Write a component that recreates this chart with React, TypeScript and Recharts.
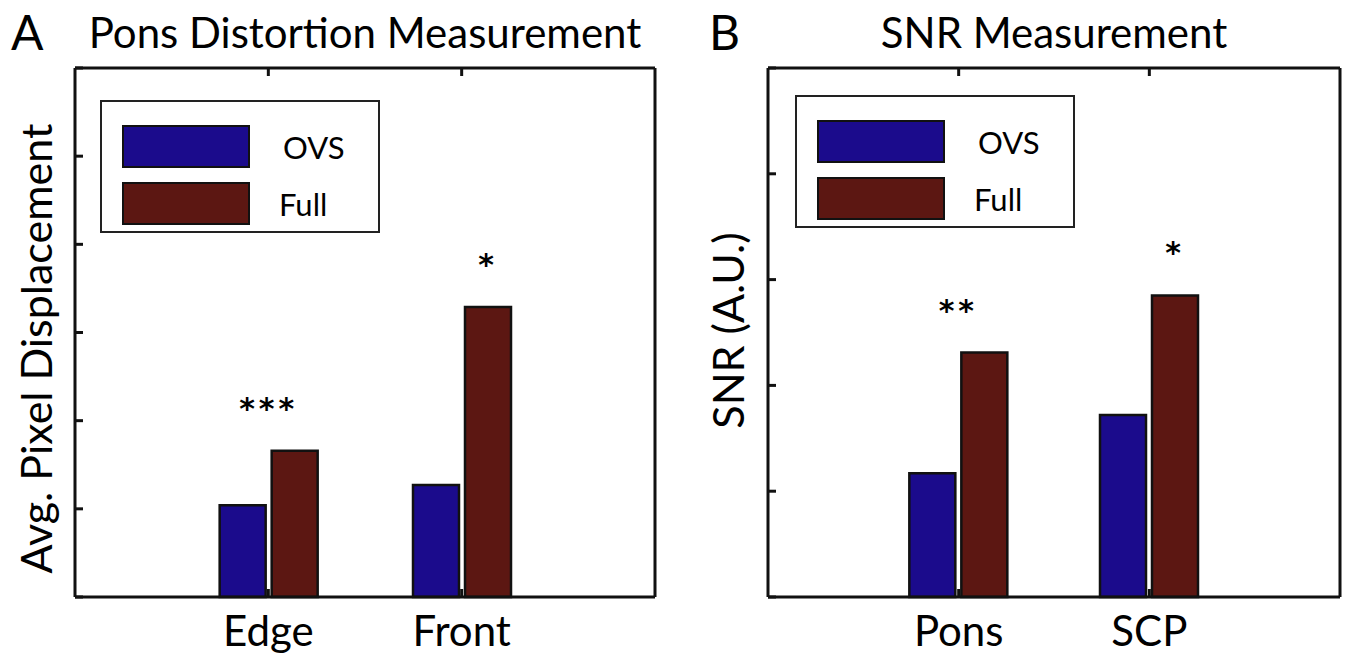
import React from 'react';
import { BarChart, Bar, XAxis, YAxis, Legend, LabelList } from 'recharts';

// panel A: pons distortion
const distortionCats = ['Edge', 'Front'];
const distortionOVS = [1.04, 1.27];
const distortionFull = [1.66, 3.29];
const distortionSig = ['***', '*'];
const distortionTicks = [0, 1, 2, 3, 4, 5, 6];

// panel B: SNR
const snrCats = ['Pons', 'SCP'];
const snrOVS = [1.17, 1.72];
const snrFull = [2.31, 2.85];
const snrSig = ['**', '*'];
const snrTicks = [0, 1, 2, 3, 4, 5];

const seriesNames = ['OVS', 'Full'];

const FONT = 'Lato, "Open Sans", sans-serif';
const OVS_COLOR = '#1b0b8c';
const FULL_COLOR = '#5c1712';
const BAR_GAP = 6;

const renderLegend = (props: any) => {
  const payload = [...props.payload].sort((a: any, b: any) => seriesNames.indexOf(a.value) - seriesNames.indexOf(b.value));
  return (
    <div style={{ border: '2.5px solid #222', background: '#fff', width: 280, height: 133, boxSizing: 'border-box', position: 'relative' }}>
      {payload.map((entry: any, i: number) => (
        <div key={entry.value} style={{ position: 'absolute', left: 20, top: 23 + i * 57, display: 'flex', alignItems: 'center' }}>
          <div style={{ width: 128, height: 43, background: entry.color, border: '2.5px solid #111', boxSizing: 'border-box' }} />
          <span style={{ marginLeft: i === 0 ? 33 : 29, fontFamily: FONT, fontSize: 31, color: '#000' }}>{entry.value}</span>
        </div>
      ))}
    </div>
  );
};

const renderStars = (props: any) => {
  const { x, y, width, value } = props;
  // multi-star marks sit over the pair, single stars over the Full bar
  const cx = value.length > 1 ? x - BAR_GAP / 2 : x + width / 2;
  return (
    <text x={cx} y={y - 48 + 16} textAnchor="middle" fontFamily='"DejaVu Sans", sans-serif' fontSize={30} fontWeight={700} letterSpacing={4} fill="#000">
      {value}
    </text>
  );
};

const makeYLabel = (text: string, dx: number, dy: number) => (props: any) => {
  const vb = props.viewBox;
  const cx = vb.x + vb.width - dx;
  const cy = vb.y + vb.height / 2 + dy;
  return (
    <text x={cx} y={cy} transform={`rotate(-90 ${cx} ${cy})`} textAnchor="middle" dominantBaseline="central" fontFamily={FONT} fontSize={43} fill="#000">
      {text}
    </text>
  );
};

const renderCatTick = (props: any) => {
  const { x, payload } = props;
  return (
    <text x={x} y={646} textAnchor="middle" fontFamily={FONT} fontSize={42} fill="#000">
      {payload.value}
    </text>
  );
};

interface PanelProps {
  cats: string[];
  ovs: number[];
  full: number[];
  sig: string[];
  ticks: number[];
  yLabel: string;
  width: number;
  margin: { top: number; left: number; right: number; bottom: number };
  legendPos: { left: number; top: number };
  labelDx: number;
  labelDy: number;
}

const Panel: React.FC<PanelProps> = ({ cats, ovs, full, sig, ticks, yLabel, width, margin, legendPos, labelDx, labelDy }) => {
  const data = cats.map((c, i) => ({ cat: c, ovs: ovs[i], full: full[i], sig: sig[i] }));
  const plotW = width - margin.left - margin.right - 2;
  const pad = plotW / 6;
  const maxV = ticks[ticks.length - 1];
  const axisStroke = { stroke: '#111', strokeWidth: 3 };
  return (
    <BarChart width={width} height={658} data={data} margin={margin} barGap={BAR_GAP} barSize={46}>
      <XAxis dataKey="cat" height={61} padding={{ left: pad, right: pad }} axisLine={axisStroke} tickLine={axisStroke} tickSize={-8} tick={renderCatTick} interval={0} />
      <XAxis xAxisId="top" orientation="top" dataKey="cat" height={1} padding={{ left: pad, right: pad }} axisLine={axisStroke} tickLine={axisStroke} tickSize={-8} tickFormatter={() => ''} interval={0} />
      <YAxis domain={[0, maxV]} ticks={ticks} width={1} axisLine={axisStroke} tickLine={axisStroke} tickSize={-8} tickFormatter={() => ''} label={makeYLabel(yLabel, labelDx, labelDy)} />
      <YAxis yAxisId="right" orientation="right" domain={[0, maxV]} ticks={ticks} width={1} axisLine={axisStroke} tickLine={axisStroke} tickSize={-8} tickFormatter={() => ''} />
      <Legend layout="vertical" align="center" verticalAlign="middle" content={renderLegend} wrapperStyle={{ left: legendPos.left, top: legendPos.top, width: 280 }} />
      <Bar dataKey="ovs" name={seriesNames[0]} fill={OVS_COLOR} stroke="#111" strokeWidth={2.5} isAnimationActive={false} />
      <Bar dataKey="full" name={seriesNames[1]} fill={FULL_COLOR} stroke="#111" strokeWidth={2.5} isAnimationActive={false}>
        <LabelList dataKey="sig" content={renderStars} />
      </Bar>
    </BarChart>
  );
};

export default function App() {
  return (
    <div style={{ position: 'absolute', left: 0, top: 0, width: 1358, height: 658, background: '#fff', fontFamily: FONT }}>
      <div style={{ position: 'absolute', left: 0, top: 0 }}>
        <Panel cats={distortionCats} ovs={distortionOVS} full={distortionFull} sig={distortionSig} ticks={distortionTicks}
          yLabel="Avg. Pixel Displacement" width={680} margin={{ top: 67, left: 74, right: 24, bottom: 0 }}
          legendPos={{ left: 100, top: 100 }} labelDx={40} labelDy={16} />
      </div>
      <div style={{ position: 'absolute', left: 680, top: 0 }}>
        <Panel cats={snrCats} ovs={snrOVS} full={snrFull} sig={snrSig} ticks={snrTicks}
          yLabel="SNR (A.U.)" width={678} margin={{ top: 67, left: 87, right: 17, bottom: 0 }}
          legendPos={{ left: 115, top: 95 }} labelDx={41} labelDy={-2} />
      </div>
      <div style={{ position: 'absolute', left: 11, top: 2, fontSize: 48, lineHeight: '60px' }}>A</div>
      <div style={{ position: 'absolute', left: 75, top: 4, width: 580, textAlign: 'center', fontSize: 42, lineHeight: '56px' }}>Pons Distortion Measurement</div>
      <div style={{ position: 'absolute', left: 709, top: 2, fontSize: 48, lineHeight: '60px' }}>B</div>
      <div style={{ position: 'absolute', left: 768, top: 4, width: 572, textAlign: 'center', fontSize: 42, lineHeight: '56px' }}>SNR Measurement</div>
    </div>
  );
}
